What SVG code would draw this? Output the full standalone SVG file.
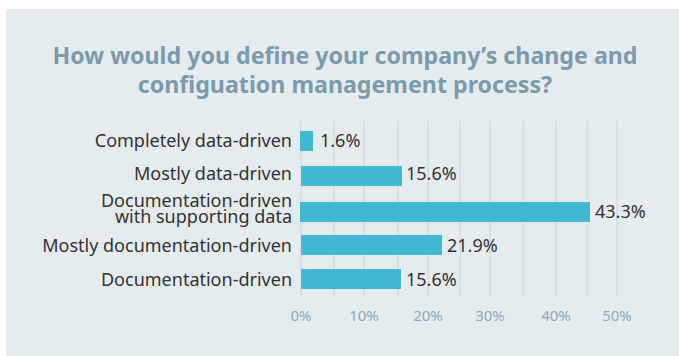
<svg xmlns="http://www.w3.org/2000/svg" width="679" height="356" viewBox="0 0 679 356">
<style>
.title{font-family:"Noto Sans","Open Sans",sans-serif;font-weight:bold;font-size:23.2px;fill:#7b9aac;text-anchor:middle}
.cat{font-family:"Noto Sans","Open Sans",sans-serif;font-size:18px;fill:#333333;text-anchor:end}
.val{font-family:"Noto Sans","Open Sans",sans-serif;font-size:18px;fill:#333333}
.ax{font-family:"Noto Sans","Open Sans",sans-serif;font-size:15px;fill:#8ea8b8;text-anchor:middle}
.grid line{stroke:#cfd8df;stroke-width:1.2}
.bar{fill:#42b9d3}
</style>
<rect x="0" y="0" width="679" height="356" fill="#ffffff"/>
<rect x="6" y="9" width="673" height="347" fill="#e5ecf0"/>
<g id="title">
<text class="title" x="345" y="64">How would you define your company’s change and</text>
<text class="title" x="345" y="93">configuation management process?</text>
</g>
<g class="grid" id="grid">
<line x1="301" y1="121" x2="301" y2="296"/>
<line x1="334" y1="121" x2="334" y2="296"/>
<line x1="364" y1="121" x2="364" y2="296"/>
<line x1="398" y1="121" x2="398" y2="296"/>
<line x1="428" y1="121" x2="428" y2="296"/>
<line x1="460" y1="121" x2="460" y2="296"/>
<line x1="490" y1="121" x2="490" y2="296"/>
<line x1="523" y1="121" x2="523" y2="296"/>
<line x1="556" y1="121" x2="556" y2="296"/>
<line x1="587" y1="121" x2="587" y2="296"/>
<line x1="617" y1="121" x2="617" y2="296"/>
</g>
<g id="bar1">
<text class="cat" x="292" y="147">Completely data-driven</text>
<rect class="bar" x="300" y="131" width="13" height="20"/>
<text class="val" x="320" y="147">1.6%</text>
</g>
<g id="bar2">
<text class="cat" x="292" y="180">Mostly data-driven</text>
<rect class="bar" x="301" y="166" width="101" height="20"/>
<text class="val" x="406" y="180">15.6%</text>
</g>
<g id="bar3">
<text class="cat"><tspan x="292" y="206.5">Documentation-driven</tspan><tspan x="292" y="222.5">with supporting data</tspan></text>
<rect class="bar" x="300" y="202" width="290" height="20"/>
<text class="val" x="595" y="218">43.3%</text>
</g>
<g id="bar4">
<text class="cat" x="292" y="252">Mostly documentation-driven</text>
<rect class="bar" x="301" y="235" width="141" height="20"/>
<text class="val" x="447" y="252">21.9%</text>
</g>
<g id="bar5">
<text class="cat" x="292" y="286">Documentation-driven</text>
<rect class="bar" x="301" y="269" width="100" height="20"/>
<text class="val" x="406" y="286">15.6%</text>
</g>
<g id="axis">
<text class="ax" x="301" y="321">0%</text>
<text class="ax" x="364" y="321">10%</text>
<text class="ax" x="428" y="321">20%</text>
<text class="ax" x="490" y="321">30%</text>
<text class="ax" x="556" y="321">40%</text>
<text class="ax" x="617" y="321">50%</text>
</g>
</svg>
